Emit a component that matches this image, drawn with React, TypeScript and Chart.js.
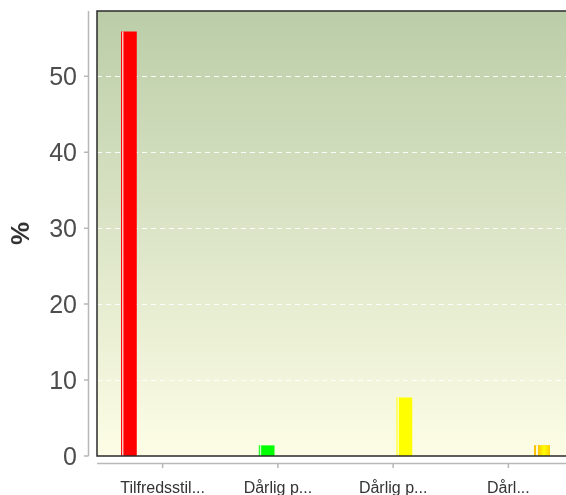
import React, { useEffect, useRef } from "react";
import { Chart, registerables } from "chart.js";

Chart.register(...registerables);

const categories = ["Tilfredsstil...", "Dårlig p...", "Dårlig p...", "Dårl..."];
const seriesNames = ["Tilfredsstillende", "Dårlig p1", "Dårlig p2", "Dårlig p3"];
const seriesA = [55.9, null, null, null];
const seriesB = [null, 1.4, null, null];
const seriesC = [null, null, 7.7, null];
const seriesD = [null, null, null, 1.4];
const seriesColors = ["#ff0000", "#00ff00", "#ffff00", "#ffc800"];
const yMax = 58.6;
const yStep = 10;

const FONT = "'Liberation Sans', Arial, sans-serif";

const decorPlugin = {
  id: "decor",
  beforeDatasetsDraw(chart: any) {
    const { ctx, chartArea } = chart;
    const y = chart.scales.y;
    const left = chartArea.left - 8;
    const right = chart.width;
    ctx.save();
    const g = ctx.createLinearGradient(0, chartArea.top, 0, chartArea.bottom);
    g.addColorStop(0, "#bbcda8");
    g.addColorStop(1, "#fdfde6");
    ctx.fillStyle = g;
    ctx.fillRect(left, chartArea.top, right - left, chartArea.bottom - chartArea.top);
    ctx.strokeStyle = "rgba(255,255,255,0.9)";
    ctx.lineWidth = 1;
    ctx.setLineDash([5, 4]);
    y.ticks.forEach((t: any) => {
      if (t.value <= 0 || t.value >= yMax) return;
      const py = Math.round(y.getPixelForValue(t.value)) + 0.5;
      ctx.beginPath();
      ctx.moveTo(left, py);
      ctx.lineTo(right, py);
      ctx.stroke();
    });
    ctx.restore();
  },
  afterDatasetsDraw(chart: any) {
    const { ctx, chartArea } = chart;
    const y = chart.scales.y;
    const x = chart.scales.x;
    const left = chartArea.left - 8;
    const right = chart.width;
    ctx.save();
    chart.data.datasets.forEach((ds: any, di: number) => {
      const meta = chart.getDatasetMeta(di);
      meta.data.forEach((bar: any, i: number) => {
        if (ds.data[i] == null) return;
        const bl = bar.x - bar.width / 2;
        const top = bar.y;
        const h = bar.base - bar.y;
        if (di === 3) {
          const gg = ctx.createLinearGradient(bl, 0, bl + bar.width, 0);
          gg.addColorStop(0, "#ffc000");
          gg.addColorStop(0.1, "#ffc000");
          gg.addColorStop(0.11, "#fdf8d8");
          gg.addColorStop(0.22, "#fdf8d8");
          gg.addColorStop(0.24, "#ffc400");
          gg.addColorStop(0.62, "#ffff00");
          gg.addColorStop(1, "#ffd000");
          ctx.fillStyle = gg;
          ctx.fillRect(bl, top, bar.width, h);
        } else {
          ctx.fillStyle = "rgba(255,255,255,0.8)";
          ctx.fillRect(bl + 1, top, 1.4, h);
        }
      });
    });
    ctx.strokeStyle = "#2b2b2b";
    ctx.lineWidth = 1.5;
    ctx.beginPath();
    ctx.moveTo(right, chartArea.top);
    ctx.lineTo(left, chartArea.top);
    ctx.lineTo(left, chartArea.bottom);
    ctx.lineTo(right, chartArea.bottom);
    ctx.stroke();
    ctx.strokeStyle = "#b8b8b8";
    ctx.lineWidth = 1.5;
    const ax = chartArea.left - 16.5;
    ctx.beginPath();
    ctx.moveTo(ax, chartArea.top);
    ctx.lineTo(ax, chartArea.bottom);
    y.ticks.forEach((t: any) => {
      if (t.value >= yMax) return;
      const py = y.getPixelForValue(t.value);
      ctx.moveTo(ax - 4.5, py);
      ctx.lineTo(ax, py);
    });
    ctx.stroke();
    const ay = chartArea.bottom + 7.5;
    ctx.beginPath();
    ctx.moveTo(left, ay);
    ctx.lineTo(right, ay);
    categories.forEach((_c, i) => {
      const px = x.getPixelForValue(i);
      ctx.moveTo(px, ay);
      ctx.lineTo(px, ay + 4.5);
    });
    ctx.stroke();
    ctx.restore();
  },
};

export default function App() {
  const ref = useRef<HTMLCanvasElement | null>(null);
  useEffect(() => {
    if (!ref.current) return;
    const series = [seriesA, seriesB, seriesC, seriesD];
    const chart = new Chart(ref.current, {
      type: "bar",
      data: {
        labels: categories,
        datasets: series.map((d, i) => ({
          label: seriesNames[i],
          data: d as any,
          backgroundColor: seriesColors[i],
          borderWidth: 0,
          categoryPercentage: 0.78,
          barPercentage: 0.7,
        })),
      },
      options: {
        responsive: false,
        animation: false,
        devicePixelRatio: 1,
        layout: { padding: { top: 11, right: -3, left: 0, bottom: 0 } },
        plugins: { legend: { display: false }, tooltip: { enabled: false } },
        scales: {
          x: {
            grid: { display: false, drawTicks: false },
            border: { display: false },
            ticks: {
              autoSkip: false,
              maxRotation: 0,
              minRotation: 0,
              padding: 23,
              color: "#333333",
              font: { family: FONT, size: 16 },
            },
            afterFit: (s: any) => {
              s.height = 39;
              s.paddingLeft = 0;
              s.paddingRight = 0;
              s.paddingTop = 0;
              s.paddingBottom = 0;
            },
          },
          y: {
            min: 0,
            max: yMax,
            grid: { display: false, drawTicks: false },
            border: { display: false },
            ticks: {
              stepSize: yStep,
              includeBounds: false,
              padding: 28,
              labelOffset: 2,
              color: "#4d4d4d",
              font: { family: FONT, size: 25 },
            },
            title: {
              display: true,
              text: "%",
              color: "#333333",
              padding: { top: 6, bottom: 0 },
              font: { family: FONT, size: 26, weight: "bold" },
            },
            afterFit: (s: any) => {
              s.width = 105;
              s.paddingTop = 0;
              s.paddingBottom = 0;
              s.paddingLeft = 0;
              s.paddingRight = 0;
            },
          },
        },
      },
      plugins: [decorPlugin],
    });
    return () => chart.destroy();
  }, []);
  return (
    <div style={{ position: "absolute", left: 0, top: 0, width: 566, height: 495 }}>
      <canvas ref={ref} width={566} height={495} style={{ display: "block" }} />
    </div>
  );
}
